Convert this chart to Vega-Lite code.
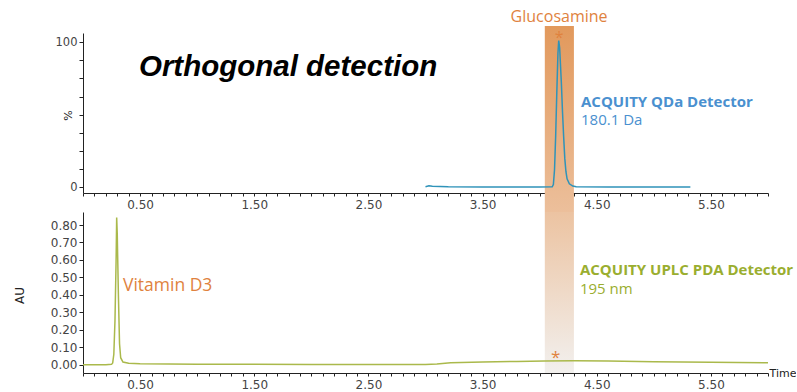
{
  "$schema": "https://vega.github.io/schema/vega-lite/v6.json",
  "background": "white",
  "padding": {"left": 13, "top": 8, "right": 0, "bottom": 0},
  "bounds": "flush",
  "spacing": 19,
  "config": {
    "view": {"stroke": null},
    "axis": {"grid": false, "domainColor": "#222", "tickColor": "#222", "labelColor": "#444", "labelFont": "DejaVu Sans", "labelFontSize": 12, "titleFont": "DejaVu Sans", "titleFontWeight": "normal", "titleColor": "#222", "zindex": 1, "labelOverlap": false, "labelFlush": false}
  },
  "vconcat": [
    {
      "width": 685,
      "height": 160,
      "encoding": {
        "x": {"field": "t", "type": "quantitative", "scale": {"domain": [0, 6], "nice": false, "zero": false},
          "axis": {"title": null, "tickSize": 3, "labelPadding": 3,
            "values": [0,0.1,0.2,0.3,0.4,0.5,0.6,0.7,0.8,0.9,1.0,1.1,1.2,1.3,1.4,1.5,1.6,1.7,1.8,1.9,2.0,2.1,2.2,2.3,2.4,2.5,2.6,2.7,2.8,2.9,3.0,3.1,3.2,3.3,3.4,3.5,3.6,3.7,3.8,3.9,4.0,4.1,4.2,4.3,4.4,4.5,4.6,4.7,4.8,4.9,5.0,5.1,5.2,5.3,5.4,5.5,5.6,5.7,5.8,5.9,6.0],
            "labelExpr": "(round(datum.value*10) % 10) == 5 ? format(datum.value, '.2f') : ''"}},
        "y": {"field": "v", "type": "quantitative", "scale": {"domain": [-3.8, 106.2], "nice": false, "zero": false},
          "axis": {"title": "%", "titleX": -10, "titleY": 82, "titleFontSize": 11, "tickSize": 4, "labelPadding": 2, "labelFontSize": 11.5,
            "values": [0, 12.5, 25, 37.5, 50, 62.5, 75, 87.5, 100],
            "labelExpr": "(datum.value == 0 || datum.value == 100) ? format(datum.value, 'd') : ''"}}
      },
      "layer": [
        {
          "data": {"values": [{"t": 4.045, "t2": 4.30, "v": 111, "v2": -16.8}]},
          "mark": {"type": "rect", "clip": false, "color": {"gradient": "linear", "x1": 0, "y1": 0, "x2": 0, "y2": 1, "stops": [{"offset": 0, "color": "#E2995C"}, {"offset": 1, "color": "#ECBF9B"}]}},
          "encoding": {"x2": {"field": "t2"}, "y2": {"field": "v2"}}
        },
        {
          "data": {"values": [
            {"t": 3.00, "v": 0.5}, {"t": 3.03, "v": 1.2}, {"t": 3.06, "v": 0.8}, {"t": 3.2, "v": 0.5}, {"t": 3.5, "v": 0.4},
            {"t": 3.8, "v": 0.3}, {"t": 4.0, "v": 0.3}, {"t": 4.11, "v": 0.5}, {"t": 4.12, "v": 2}, {"t": 4.13, "v": 12},
            {"t": 4.14, "v": 35}, {"t": 4.15, "v": 65}, {"t": 4.16, "v": 92}, {"t": 4.167, "v": 101}, {"t": 4.175, "v": 96},
            {"t": 4.19, "v": 72}, {"t": 4.20, "v": 52}, {"t": 4.21, "v": 35}, {"t": 4.22, "v": 20}, {"t": 4.23, "v": 11},
            {"t": 4.24, "v": 6}, {"t": 4.26, "v": 2.5}, {"t": 4.29, "v": 1}, {"t": 4.32, "v": 0.5}, {"t": 4.6, "v": 0.4},
            {"t": 5.0, "v": 0.4}, {"t": 5.32, "v": 0.4}
          ]},
          "mark": {"type": "line", "color": "#2F93B9", "strokeWidth": 1.5}
        },
        {
          "data": {"values": [{"t": 4.17, "v": 117.5, "label": "Glucosamine"}]},
          "mark": {"type": "text", "align": "center", "baseline": "middle", "font": "Open Sans", "fontSize": 16, "color": "#E0823E", "clip": false},
          "encoding": {"text": {"field": "label"}}
        },
        {
          "data": {"values": [{"t": 4.17, "v": 103, "label": "*"}]},
          "mark": {"type": "text", "align": "center", "baseline": "middle", "font": "Open Sans", "fontSize": 16, "color": "#E0823E", "clip": false},
          "encoding": {"text": {"field": "label"}}
        },
        {
          "data": {"values": [{"t": 4.362, "v": 58.6, "label": "ACQUITY QDa Detector"}]},
          "mark": {"type": "text", "align": "left", "baseline": "middle", "font": "Open Sans", "fontWeight": "bold", "fontSize": 15, "color": "#4A90CF", "clip": false},
          "encoding": {"text": {"field": "label"}}
        },
        {
          "data": {"values": [{"t": 4.362, "v": 46.2, "label": "180.1 Da"}]},
          "mark": {"type": "text", "align": "left", "baseline": "middle", "font": "Open Sans", "fontSize": 15, "color": "#4A90CF"},
          "encoding": {"text": {"field": "label"}}
        },
        {
          "data": {"values": [{"t": 0.49, "v": 82.8, "label": "Orthogonal detection"}]},
          "mark": {"type": "text", "align": "left", "baseline": "middle", "font": "Liberation Sans", "fontWeight": "bold", "fontStyle": "italic", "fontSize": 29.5, "color": "#000000"},
          "encoding": {"text": {"field": "label"}}
        }
      ]
    },
    {
      "width": 685,
      "height": 161,
      "encoding": {
        "x": {"field": "t", "type": "quantitative", "scale": {"domain": [0, 6], "nice": false, "zero": false},
          "axis": {"title": "Time", "titleX": 686, "titleY": 0, "titleAlign": "left", "titleBaseline": "middle", "titleAngle": 0, "titleFontSize": 11, "titleAnchor": null,
            "tickSize": 3, "labelPadding": 3,
            "values": [0,0.1,0.2,0.3,0.4,0.5,0.6,0.7,0.8,0.9,1.0,1.1,1.2,1.3,1.4,1.5,1.6,1.7,1.8,1.9,2.0,2.1,2.2,2.3,2.4,2.5,2.6,2.7,2.8,2.9,3.0,3.1,3.2,3.3,3.4,3.5,3.6,3.7,3.8,3.9,4.0,4.1,4.2,4.3,4.4,4.5,4.6,4.7,4.8,4.9,5.0,5.1,5.2,5.3,5.4,5.5,5.6,5.7,5.8,5.9,6.0],
            "labelExpr": "(round(datum.value*10) % 10) == 5 ? format(datum.value, '.2f') : ''"}},
        "y": {"field": "v", "type": "quantitative", "scale": {"domain": [-0.0475, 0.8745], "nice": false, "zero": false},
          "axis": {"title": "AU", "titleX": -57, "titleY": 83, "titleFontSize": 12, "tickSize": 4, "labelPadding": 2, "format": ".2f",
            "values": [0, 0.1, 0.2, 0.3, 0.4, 0.5, 0.6, 0.7, 0.8]}}
      },
      "layer": [
        {
          "data": {"values": [{"t": 4.045, "t2": 4.30, "v": 0.8745, "v2": -0.0475}]},
          "mark": {"type": "rect", "color": {"gradient": "linear", "x1": 0, "y1": 0, "x2": 0, "y2": 1, "stops": [{"offset": 0, "color": "#ECC3A1"}, {"offset": 1, "color": "#F2F0EE"}]}},
          "encoding": {"x2": {"field": "t2"}, "y2": {"field": "v2"}}
        },
        {
          "data": {"values": [
            {"t": 0.0, "v": 0.0}, {"t": 0.2, "v": 0.0}, {"t": 0.25, "v": 0.002}, {"t": 0.26, "v": 0.01}, {"t": 0.27, "v": 0.06},
            {"t": 0.28, "v": 0.25}, {"t": 0.29, "v": 0.6}, {"t": 0.295, "v": 0.843}, {"t": 0.30, "v": 0.75}, {"t": 0.31, "v": 0.4},
            {"t": 0.32, "v": 0.12}, {"t": 0.33, "v": 0.04}, {"t": 0.35, "v": 0.015}, {"t": 0.40, "v": 0.008}, {"t": 0.5, "v": 0.005},
            {"t": 1.0, "v": 0.003}, {"t": 2.0, "v": 0.001}, {"t": 3.0, "v": 0.001}, {"t": 3.1, "v": 0.004}, {"t": 3.22, "v": 0.011},
            {"t": 3.5, "v": 0.016}, {"t": 3.8, "v": 0.019}, {"t": 4.04, "v": 0.021}, {"t": 4.3, "v": 0.022}, {"t": 4.6, "v": 0.021},
            {"t": 5.0, "v": 0.017}, {"t": 5.5, "v": 0.014}, {"t": 6.0, "v": 0.011}
          ]},
          "mark": {"type": "line", "color": "#AAB94B", "strokeWidth": 1.5}
        },
        {
          "data": {"values": [{"t": 4.14, "v": 0.038, "label": "*"}]},
          "mark": {"type": "text", "align": "center", "baseline": "middle", "font": "Open Sans", "fontSize": 17, "color": "#E0823E"},
          "encoding": {"text": {"field": "label"}}
        },
        {
          "data": {"values": [{"t": 0.35, "v": 0.45, "label": "Vitamin D3"}]},
          "mark": {"type": "text", "align": "left", "baseline": "middle", "font": "Open Sans", "fontSize": 17.5, "color": "#E0823E"},
          "encoding": {"text": {"field": "label"}}
        },
        {
          "data": {"values": [{"t": 4.353, "v": 0.542, "label": "ACQUITY UPLC PDA Detector"}]},
          "mark": {"type": "text", "align": "left", "baseline": "middle", "font": "Open Sans", "fontWeight": "bold", "fontSize": 15, "color": "#9AAE2F", "clip": false},
          "encoding": {"text": {"field": "label"}}
        },
        {
          "data": {"values": [{"t": 4.353, "v": 0.433, "label": "195 nm"}]},
          "mark": {"type": "text", "align": "left", "baseline": "middle", "font": "Open Sans", "fontSize": 15, "color": "#9AAE2F"},
          "encoding": {"text": {"field": "label"}}
        }
      ]
    }
  ]
}
